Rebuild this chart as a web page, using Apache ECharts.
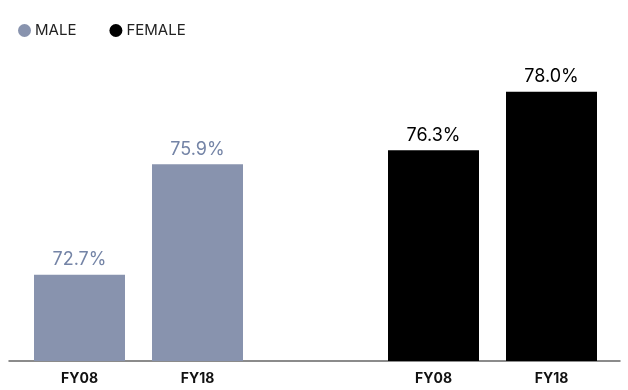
<!DOCTYPE html>
<html>
<head>
<meta charset="utf-8">
<script src="https://cdn.jsdelivr.net/npm/echarts@6/dist/echarts.min.js"></script>
<style>
  html, body { margin: 0; padding: 0; background: #ffffff; }
  #chart { width: 628px; height: 390px; }
</style>
</head>
<body>
<div id="chart"></div>
<script>
// Share of staff by gender, FY08 vs FY18
const categories = ['FY08', 'FY18', '', 'FY08', 'FY18'];
const maleValues = [72.7, 75.9, null, null, null];
const femaleValues = [null, null, null, 76.3, 78.0];

const MALE_COLOR = '#8893ae';
const MALE_TEXT = '#7484a6';
const FEMALE_COLOR = '#000000';
const FONT = 'Inter, "Noto Sans", sans-serif';

const chart = echarts.init(document.getElementById('chart'), null, { renderer: 'canvas' });

const pctLabel = (color) => ({
  show: true,
  position: 'top',
  distance: 6,
  color: color,
  fontFamily: FONT,
  fontSize: 18,
  formatter: (p) => p.value == null ? '' : p.value.toFixed(1) + '%'
});

chart.setOption({
  animation: false,
  backgroundColor: '#ffffff',
  textStyle: { fontFamily: FONT },
  legend: {
    left: 13,
    top: 18,
    icon: 'circle',
    itemWidth: 13,
    itemHeight: 13,
    itemGap: 33,
    textStyle: { fontFamily: FONT, fontSize: 15, color: '#222222', padding: [1, 0, 0, -1] },
    data: ['MALE', 'FEMALE']
  },
  grid: [
    { left: 20.5, right: 17.5, top: 22.6, bottom: 29 },
    { left: 9, right: 8, top: 22.6, bottom: 29 }
  ],
  xAxis: [
    {
      type: 'category',
      gridIndex: 0,
      data: categories,
      axisLine: { show: false },
      axisTick: { show: false },
      axisLabel: {
        color: '#111111',
        fontFamily: FONT,
        fontSize: 14,
        fontWeight: 'bold',
        margin: 11
      }
    },
    {
      type: 'category',
      gridIndex: 1,
      data: categories,
      axisLine: { show: true, lineStyle: { color: '#666666', width: 1.5 } },
      axisTick: { show: false },
      axisLabel: { show: false }
    }
  ],
  yAxis: [
    { type: 'value', gridIndex: 0, min: 70.2, max: 80, show: false, splitLine: { show: false } },
    { type: 'value', gridIndex: 1, min: 70.2, max: 80, show: false, splitLine: { show: false } }
  ],
  series: [
    {
      name: 'MALE',
      type: 'bar',
      xAxisIndex: 0,
      yAxisIndex: 0,
      data: maleValues,
      barWidth: 91,
      barGap: '-100%',
      itemStyle: { color: MALE_COLOR },
      label: pctLabel(MALE_TEXT)
    },
    {
      name: 'FEMALE',
      type: 'bar',
      xAxisIndex: 0,
      yAxisIndex: 0,
      data: femaleValues,
      barWidth: 91,
      barGap: '-100%',
      itemStyle: { color: FEMALE_COLOR },
      label: pctLabel('#000000')
    }
  ]
});
</script>
</body>
</html>
